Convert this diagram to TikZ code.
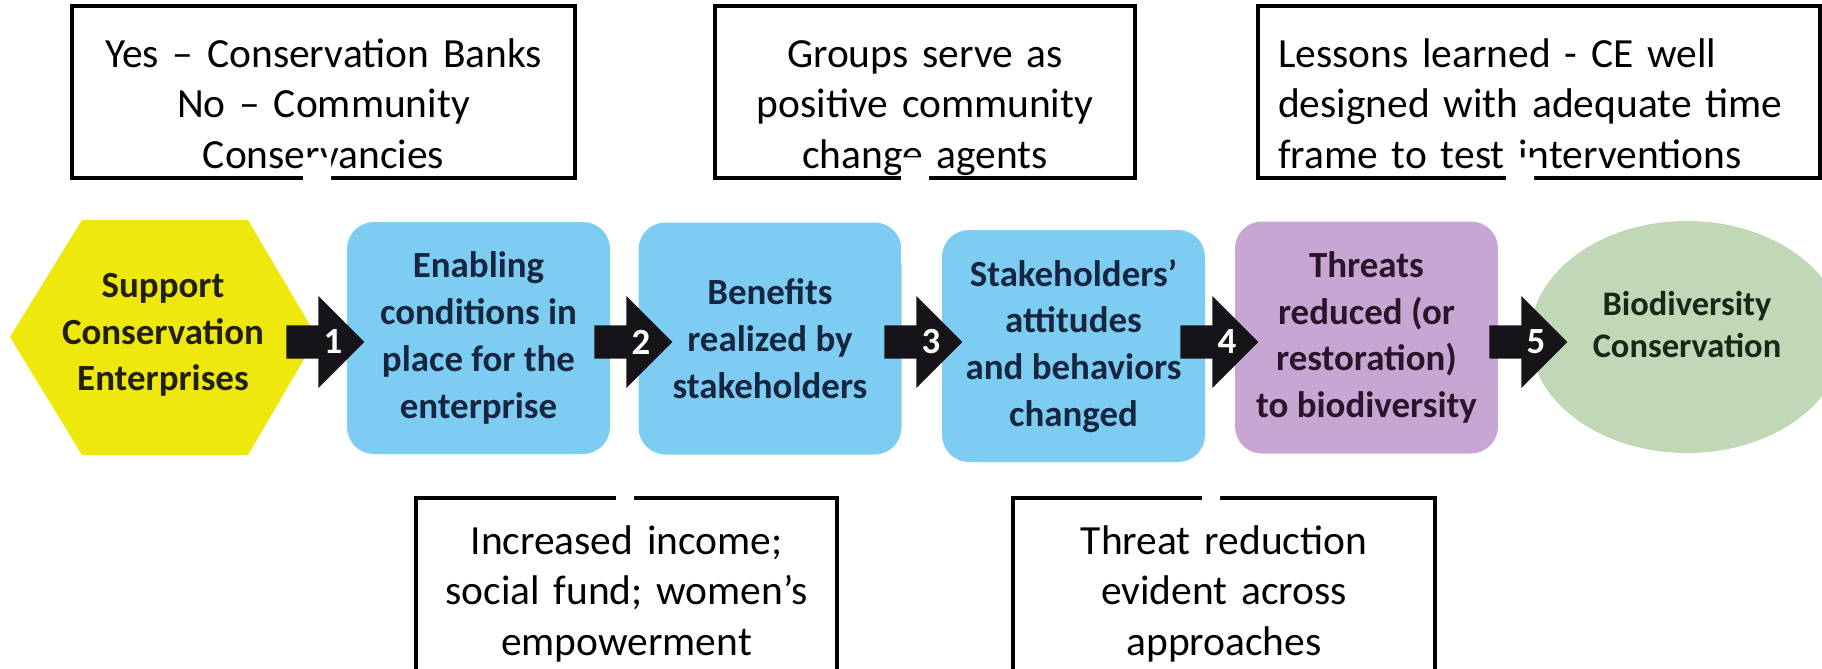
\documentclass[tikz,border=0pt]{standalone}
\usepackage{fontspec}
\setmainfont{Carlito}
\usetikzlibrary{positioning, shapes.geometric, shapes.arrows}
\definecolor{supyellow}{RGB}{238,232,12}
\definecolor{stepblue}{RGB}{124,205,241}
\definecolor{threatpurple}{RGB}{200,166,211}
\definecolor{biogreen}{RGB}{192,216,181}
\definecolor{navytext}{RGB}{22,38,64}
\definecolor{suptext}{RGB}{34,32,12}
\definecolor{threattext}{RGB}{42,20,42}
\definecolor{biotext}{RGB}{22,40,24}
\definecolor{arrowblack}{RGB}{22,20,24}

\begin{document}
\begin{tikzpicture}[x=0.1mm, y=-0.1mm,
  stepbox/.style={rounded corners=2.7mm, minimum width=26.3mm, minimum height=23.2mm, align=center, text=navytext, font=\fontsize{10.5}{13.3}\selectfont\bfseries},
  numlabel/.style={text=white, xshift=1.6mm, inner sep=0pt, font=\fontsize{10.5}{12}\selectfont\bfseries},
  blockarrow/.style={single arrow, fill=arrowblack, minimum height=7.8mm, minimum width=9.2mm, inner xsep=0pt, inner ysep=0.2pt, text height=7.2pt, text depth=0pt, font=\fontsize{10.5}{12}\selectfont\bfseries, label={[numlabel]center:#1}},
  callout/.style={draw, line width=0.45mm, inner xsep=0.5mm, text height=3mm, text depth=8mm, font=\fontsize{11.8}{14.4}\selectfont},
  pointer/.style={draw=white, line width=2.8mm}]
  \useasboundingbox (0,0) rectangle (1822,669);
  \clip (0,0) rectangle (1822,669);

  % steps of the chain
  \fill[supyellow] (10,337) -- (82,220) -- (248,220) -- (317,337) -- (248,455) -- (82,455) -- cycle;
  \node[align=center, text=suptext, font=\fontsize{10.5}{13.3}\selectfont\bfseries] (sup) at (163,335) {Support\\Conservation\\Enterprises};
  \node[stepbox, fill=stepblue] (ena) at (478.5,338) {Enabling\\conditions in\\place for the\\enterprise};
  \node[stepbox, fill=stepblue] (ben) at (770,338.5) {Benefits\\realized by\\stakeholders};
  \node[stepbox, fill=stepblue] (sta) at (1073.5,346) {Stakeholders’\\attitudes\\and behaviors\\changed};
  \node[stepbox, fill=threatpurple, text=threattext] (thr) at (1366.5,337.5) {Threats\\reduced (or\\restoration)\\to biodiversity};
  \node[ellipse, fill=biogreen, minimum width=31.4mm, minimum height=23.2mm, inner sep=0pt, text width=20mm, align=center, text height=3mm, text depth=7.4mm, text=biotext, font=\fontsize{9.8}{12}\selectfont\bfseries] (bio) at (1687,337) {Biodiversity\\Conservation};

  \node[blockarrow=1] (a1) at (317,342) {\phantom{1}};
  \node[blockarrow=2] (a2) at (625,342) {\phantom{2}};
  \node[blockarrow=3] (a3) at (915,342) {\phantom{3}};
  \node[blockarrow=4] (a4) at (1211,342) {\phantom{4}};
  \node[blockarrow=5] (a5) at (1520,342) {\phantom{5}};

  % findings
  \node[callout, minimum width=50.3mm, minimum height=17.2mm, text width=49.3mm, align=center] (c1) at (323.5,92) {Yes – Conservation Banks\\No – Community\\Conservancies};
  \node[callout, minimum width=42mm, minimum height=17.2mm, text width=41mm, align=center] (c2) at (925,92) {Groups serve as\\positive community\\change agents};
  \node[callout, minimum width=56.2mm, minimum height=17.2mm, inner xsep=2mm, text width=52.2mm, align=left] (c3) at (1539,92) {Lessons learned - CE well\\designed with adequate time\\frame to test interventions};
  \node[callout, minimum width=42.1mm, minimum height=18.5mm, text width=41.1mm, text depth=10.3mm, align=center] (c4) at (626.5,590.5) {Increased income;\\social fund; women’s\\empowerment};
  \node[callout, minimum width=42.2mm, minimum height=18.5mm, text width=41.2mm, text depth=10.3mm, align=center] (c5) at (1224,590.5) {Threat reduction\\evident across\\approaches};

  \draw[pointer, shorten <=-2.3mm, shorten >=6mm] (a1 |- c1.south) -- (a1);
  \draw[pointer, shorten <=-2.3mm, shorten >=6mm] (a3 |- c2.south) -- (a3);
  \draw[pointer, shorten <=-2.3mm, shorten >=6mm] (a5 |- c3.south) -- (a5);
  \draw[pointer, line width=1.8mm, shorten <=-1.5mm, shorten >=11.5mm] (a2 |- c4.north) -- (a2);
  \draw[pointer, line width=1.8mm, shorten <=-1.5mm, shorten >=11.5mm] (a4 |- c5.north) -- (a4);
\end{tikzpicture}
\end{document}
